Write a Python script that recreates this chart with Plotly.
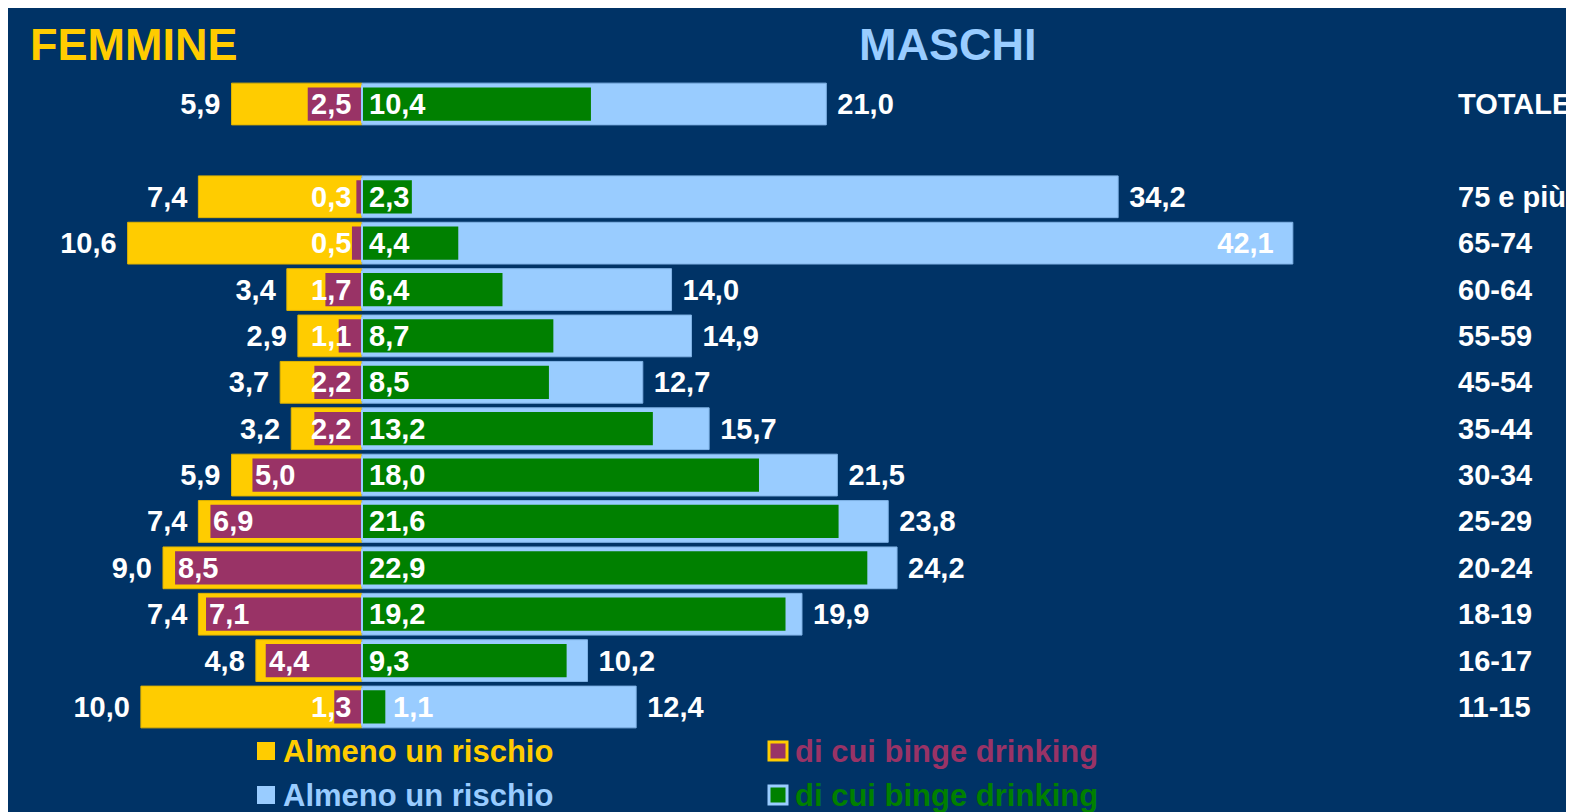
import plotly.graph_objects as go

# categorie dal basso verso l'alto ("" = riga vuota tra classi d'età e totale)
categories = ["11-15", "16-17", "18-19", "20-24", "25-29", "30-34", "35-44",
              "45-54", "55-59", "60-64", "65-74", "75 e più", "", "TOTALE"]

femmine_rischio = [10.0, 4.8, 7.4, 9.0, 7.4, 5.9, 3.2, 3.7, 2.9, 3.4, 10.6, 7.4, None, 5.9]
femmine_binge = [1.3, 4.4, 7.1, 8.5, 6.9, 5.0, 2.2, 2.2, 1.1, 1.7, 0.5, 0.3, None, 2.5]
maschi_rischio = [12.4, 10.2, 19.9, 24.2, 23.8, 21.5, 15.7, 12.7, 14.9, 14.0, 42.1, 34.2, None, 21.0]
maschi_binge = [1.1, 9.3, 19.2, 22.9, 21.6, 18.0, 13.2, 8.5, 8.7, 6.4, 4.4, 2.3, None, 10.4]

legend_labels = ["Almeno un rischio", "di cui binge drinking"]

NAVY = "#003366"
YELLOW = "#FFCC00"
LIGHTBLUE = "#99CCFF"
PURPLE = "#993366"
GREEN = "#008000"
FONT = "Liberation Sans"
LBL = dict(color="white", size=29, family=FONT, weight="bold")
NBSP = "\u00a0"


def fmt(v):
    return "" if v is None else f"{v:.1f}".replace(".", ",")


def neg(vals):
    return [None if v is None else -v for v in vals]


ypos = list(range(len(categories)))
W, H = 1574, 812

fig = go.Figure()

# femmine (verso sinistra)
fig.add_trace(go.Bar(
    y=ypos, x=neg(femmine_rischio), orientation="h", width=0.9,
    marker=dict(color=YELLOW, line=dict(color="#E0B400", width=1)),
    text=[fmt(v) + NBSP if v is not None else "" for v in femmine_rischio],
    textposition="outside",
    textfont=LBL, constraintext="none", cliponaxis=False, textangle=0,
    name="Femmine - " + legend_labels[0],
))
fig.add_trace(go.Bar(
    y=ypos, x=neg(femmine_binge), orientation="h", width=0.76,
    marker=dict(color=PURPLE, line=dict(color=YELLOW, width=2)),
    name="Femmine - " + legend_labels[1],
))

# maschi (verso destra); il valore più alto sta dentro la barra
max_m = max(v for v in maschi_rischio if v is not None)
fig.add_trace(go.Bar(
    y=ypos, x=maschi_rischio, orientation="h", width=0.9,
    marker=dict(color=LIGHTBLUE, line=dict(color="#80B3E6", width=1)),
    text=["" if v is None else (fmt(v) + NBSP * 2 if v == max_m else NBSP + fmt(v))
          for v in maschi_rischio],
    textposition=["inside" if v == max_m else "outside" for v in maschi_rischio],
    insidetextanchor="end", textfont=LBL, insidetextfont=LBL,
    constraintext="none", cliponaxis=False, textangle=0,
    name="Maschi - " + legend_labels[0],
))
fig.add_trace(go.Bar(
    y=ypos, x=maschi_binge, orientation="h", width=0.76,
    marker=dict(color=GREEN, line=dict(color=LIGHTBLUE, width=2)),
    name="Maschi - " + legend_labels[1],
))

# etichette binge drinking
for y, vf, vm in zip(ypos, femmine_binge, maschi_binge):
    if vf is not None:
        fig.add_annotation(x=-max(vf, 2.5), y=y, text=fmt(vf), showarrow=False,
                           xanchor="left", xshift=2, font=LBL)
    if vm is not None:
        fig.add_annotation(x=vm if vm < 2 else 0, y=y, text=fmt(vm), showarrow=False,
                           xanchor="left", xshift=5, font=LBL)

# etichette categorie a destra
for y, c in zip(ypos, categories):
    if c:
        fig.add_annotation(x=1448 / W, xref="paper", y=y, text=c, showarrow=False,
                           xanchor="left", font=LBL)

fig.add_annotation(x=20 / W, y=1 - 37 / H, xref="paper", yref="paper", text="FEMMINE",
                   showarrow=False, xanchor="left", yanchor="middle",
                   font=dict(color=YELLOW, size=45, family=FONT, weight="bold"))
fig.add_annotation(x=849 / W, y=1 - 37 / H, xref="paper", yref="paper", text="MASCHI",
                   showarrow=False, xanchor="left", yanchor="middle",
                   font=dict(color=LIGHTBLUE, size=45, family=FONT, weight="bold"))

# legenda disegnata a mano (due righe, due colonne)
legend_rows = [
    (743, [(YELLOW, YELLOW, YELLOW), (PURPLE, YELLOW, PURPLE)]),
    (787, [(LIGHTBLUE, LIGHTBLUE, LIGHTBLUE), (GREEN, LIGHTBLUE, GREEN)]),
]
for ypx, items in legend_rows:
    for (fill, border, txtcol), xpx, label in zip(items, [249, 761], legend_labels):
        fig.add_shape(type="rect", xref="paper", yref="paper",
                      x0=xpx / W, x1=(xpx + 18) / W,
                      y0=1 - (ypx + 9) / H, y1=1 - (ypx - 9) / H,
                      fillcolor=fill, line=dict(color=border, width=3 if fill != border else 0))
        fig.add_annotation(x=(xpx + 24) / W, y=1 - ypx / H, xref="paper", yref="paper",
                           text=label, showarrow=False, xanchor="left", yanchor="middle",
                           font=dict(color=txtcol, size=31, family=FONT, weight="bold"))

# scala: lo zero a 354 px, ~22.1 px per punto percentuale
px_unit = 22.11
x0 = -354 / px_unit
x1 = x0 + W / px_unit
row_px = 46.38
y0 = -(H - 699) / row_px
y1 = 13 + 96 / row_px

fig.update_layout(
    width=W, height=H,
    barmode="overlay",
    paper_bgcolor=NAVY, plot_bgcolor=NAVY,
    margin=dict(l=0, r=0, t=0, b=0),
    xaxis=dict(range=[x0, x1], visible=False, fixedrange=True),
    yaxis=dict(range=[y0, y1], visible=False, fixedrange=True),
    showlegend=False,
)

fig.write_html("out.html")
